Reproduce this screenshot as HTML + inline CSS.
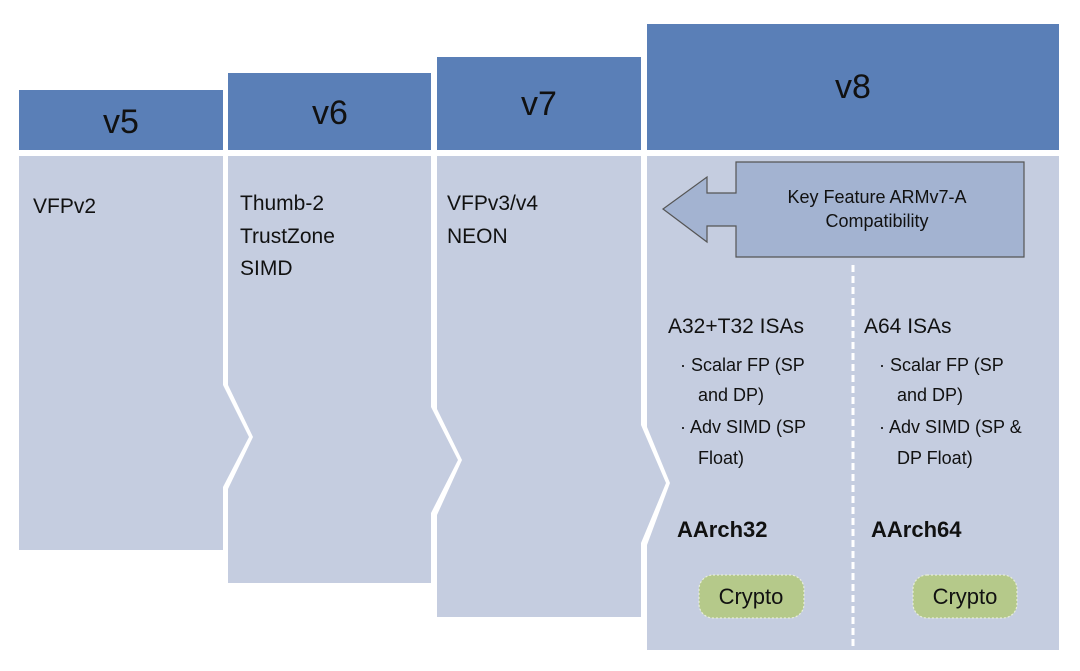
<!DOCTYPE html>
<html><head><meta charset="utf-8"><style>
html,body{margin:0;padding:0;background:#fff;width:1080px;height:671px;overflow:hidden}
svg text{font-family:"Liberation Sans",Arial,sans-serif;fill:#111}
</style></head><body>
<svg width="1080" height="671" viewBox="0 0 1080 671" xmlns="http://www.w3.org/2000/svg">
<g fill="#5a7fb7">
<rect x="19" y="90" width="204" height="60"/>
<rect x="228" y="73" width="203" height="77"/>
<rect x="437" y="57" width="204" height="93"/>
<rect x="647" y="24" width="412" height="126"/>
</g>
<g font-size="34" text-anchor="middle">
<text x="121" y="133">v5</text>
<text x="330" y="124">v6</text>
<text x="539" y="115">v7</text>
<text x="853" y="98">v8</text>
</g>
<g fill="#c5cde0">
<polygon points="19,156 223,156 223,385 249,437 223,487 223,550 19,550"/>
<polygon points="228,156 431,156 431,407 458,460 431,513 431,583 228,583 228,489 253,437 228,385"/>
<polygon points="437,156 641,156 641,425 666,483 641,543 641,617 437,617 437,515 462,460 437,409"/>
<polygon points="647,156 1059,156 1059,650 647,650 647,545 670,483 647,427"/>
</g>
<line x1="853" y1="265" x2="853" y2="650" stroke="#fff" stroke-width="3" stroke-dasharray="7,4"/>
<polygon points="736,162 1024,162 1024,257 736,257 736,226 707,226 707,242 663,209 707,177 707,193 736,193" fill="#a3b3d1" stroke="#555" stroke-width="1.2"/>
<g font-size="18" text-anchor="middle">
<text x="877" y="203">Key Feature ARMv7-A</text>
<text x="877" y="227">Compatibility</text>
</g>
<g font-size="21">
<text x="33" y="213">VFPv2</text>
<text x="240" y="210">Thumb-2</text>
<text x="240" y="243">TrustZone</text>
<text x="240" y="275">SIMD</text>
<text x="447" y="210">VFPv3/v4</text>
<text x="447" y="243">NEON</text>
<text x="668" y="333">A32+T32 ISAs</text>
<text x="864" y="333">A64 ISAs</text>
</g>
<g font-size="18">
<text x="680" y="371">· Scalar FP (SP</text>
<text x="698" y="401">and DP)</text>
<text x="680" y="433">· Adv SIMD (SP</text>
<text x="698" y="464">Float)</text>
<text x="879" y="371">· Scalar FP (SP</text>
<text x="897" y="401">and DP)</text>
<text x="879" y="433">· Adv SIMD (SP &amp;</text>
<text x="897" y="464">DP Float)</text>
</g>
<g font-size="22" font-weight="bold">
<text x="677" y="537">AArch32</text>
<text x="871" y="537">AArch64</text>
</g>
<rect x="699" y="575" width="105" height="43" rx="14" fill="#b5c98a" stroke="#e8eed8" stroke-width="1.2" stroke-dasharray="2,2"/>
<rect x="913" y="575" width="104" height="43" rx="14" fill="#b5c98a" stroke="#e8eed8" stroke-width="1.2" stroke-dasharray="2,2"/>
<g font-size="22" text-anchor="middle">
<text x="751" y="604">Crypto</text>
<text x="965" y="604">Crypto</text>
</g>
</svg>
</body></html>
